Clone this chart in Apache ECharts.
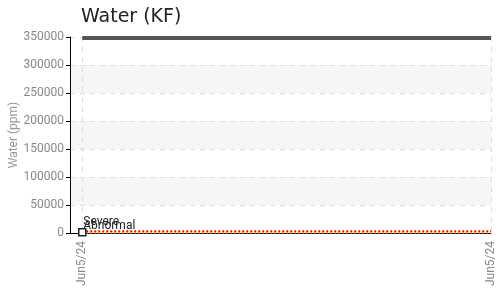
<!DOCTYPE html>
<html>
<head>
<meta charset="utf-8">
<script src="https://cdn.jsdelivr.net/npm/echarts@6/dist/echarts.min.js"></script>
<style>
  html, body { margin: 0; padding: 0; background: #fff; }
  #WaterChart { width: 501px; height: 288px; }
</style>
</head>
<body>
<div id="WaterChart"></div>
<script>
// x positions (0 = first sample, 1 = last sample) and their tick labels
const xPositions = [0, 1]
const xLabels = ['Jun5/24', 'Jun5/24']

// series values (ppm)
const upperLimit = [348000, 348000]
const severeLimit = [3000, 3000]
const abnormalLimit = [1000, 1000]
const measured = [1500]

const yTicks = [0, 50000, 100000, 150000, 200000, 250000, 300000, 350000]

const toPairs = (vals) => vals.map((v, i) => [xPositions[i], v])

// threshold line with its name printed over the first point
const limitData = (vals, name) =>
  toPairs(vals).map((p, i) =>
    i === 0
      ? {
          value: p,
          label: {
            show: true,
            formatter: name,
            position: [1, name === 'Severe' ? -15 : -12],
            color: '#222',
            fontSize: 12,
            fontFamily: 'Roboto'
          }
        }
      : p
  )

const myChart = echarts.init(document.getElementById('WaterChart'))
myChart.setOption({
  animation: false,
  /* title */
  title: {
    text: 'Water (KF)',
    left: 76,
    top: 3,
    textStyle: { fontFamily: 'DejaVu Sans', fontSize: 19, fontWeight: 'normal', color: '#222' }
  },
  grid: { left: 70, right: 10, top: 37, bottom: 55, containLabel: false, outerBoundsMode: 'none' },
  xAxis: {
    type: 'value',
    min: -0.03,
    max: 1,
    axisLine: { show: true, onZero: false, lineStyle: { color: '#000' } },
    axisTick: { show: false, customValues: xPositions },
    axisLabel: {
      customValues: xPositions,
      formatter: (v) => xLabels[xPositions.indexOf(v)] || '',
      rotate: 90,
      color: '#888',
      fontFamily: 'Roboto',
      fontSize: 12,
      margin: 8
    },
    splitLine: { show: true, lineStyle: { color: '#ddd', type: [5, 5] } }
  },
  yAxis: {
    type: 'value',
    min: yTicks[0],
    max: yTicks[yTicks.length - 1],
    interval: yTicks[1] - yTicks[0],
    name: 'Water (ppm)',
    nameLocation: 'middle',
    nameGap: 50,
    nameMoveOverlap: false,
    nameTextStyle: { color: '#999', fontFamily: 'Roboto', fontSize: 12 },
    axisLine: { show: true, onZero: false, lineStyle: { color: '#000' } },
    axisTick: { show: true, length: 4, lineStyle: { color: '#000' } },
    axisLabel: {
      color: '#888',
      fontFamily: 'Roboto',
      fontSize: 12,
      margin: 6,
      formatter: (v) => String(v)
    },
    splitLine: { show: true, lineStyle: { color: '#ddd', type: [5, 5] } },
    splitArea: { show: true, areaStyle: { color: ['rgba(255,255,255,0)', '#f6f6f6'] } }
  },
  series: [
    {
      name: 'Upper',
      type: 'line',
      symbol: 'none',
      lineStyle: { color: '#555', width: 4 },
      data: toPairs(upperLimit)
    },
    {
      name: 'Abnormal',
      type: 'line',
      symbolSize: 0,
      lineStyle: { color: '#ffcc00', width: 2, type: [2, 2] },
      data: limitData(abnormalLimit, 'Abnormal')
    },
    {
      name: 'Severe',
      type: 'line',
      symbolSize: 0,
      lineStyle: { color: '#ff0000', width: 2, type: [2, 2] },
      data: limitData(severeLimit, 'Severe')
    },
    {
      name: 'Water',
      type: 'line',
      symbol: 'rect',
      symbolSize: 7,
      itemStyle: { color: '#fff', borderColor: '#222', borderWidth: 1.5 },
      data: toPairs(measured)
    }
  ]
})
</script>
</body>
</html>
